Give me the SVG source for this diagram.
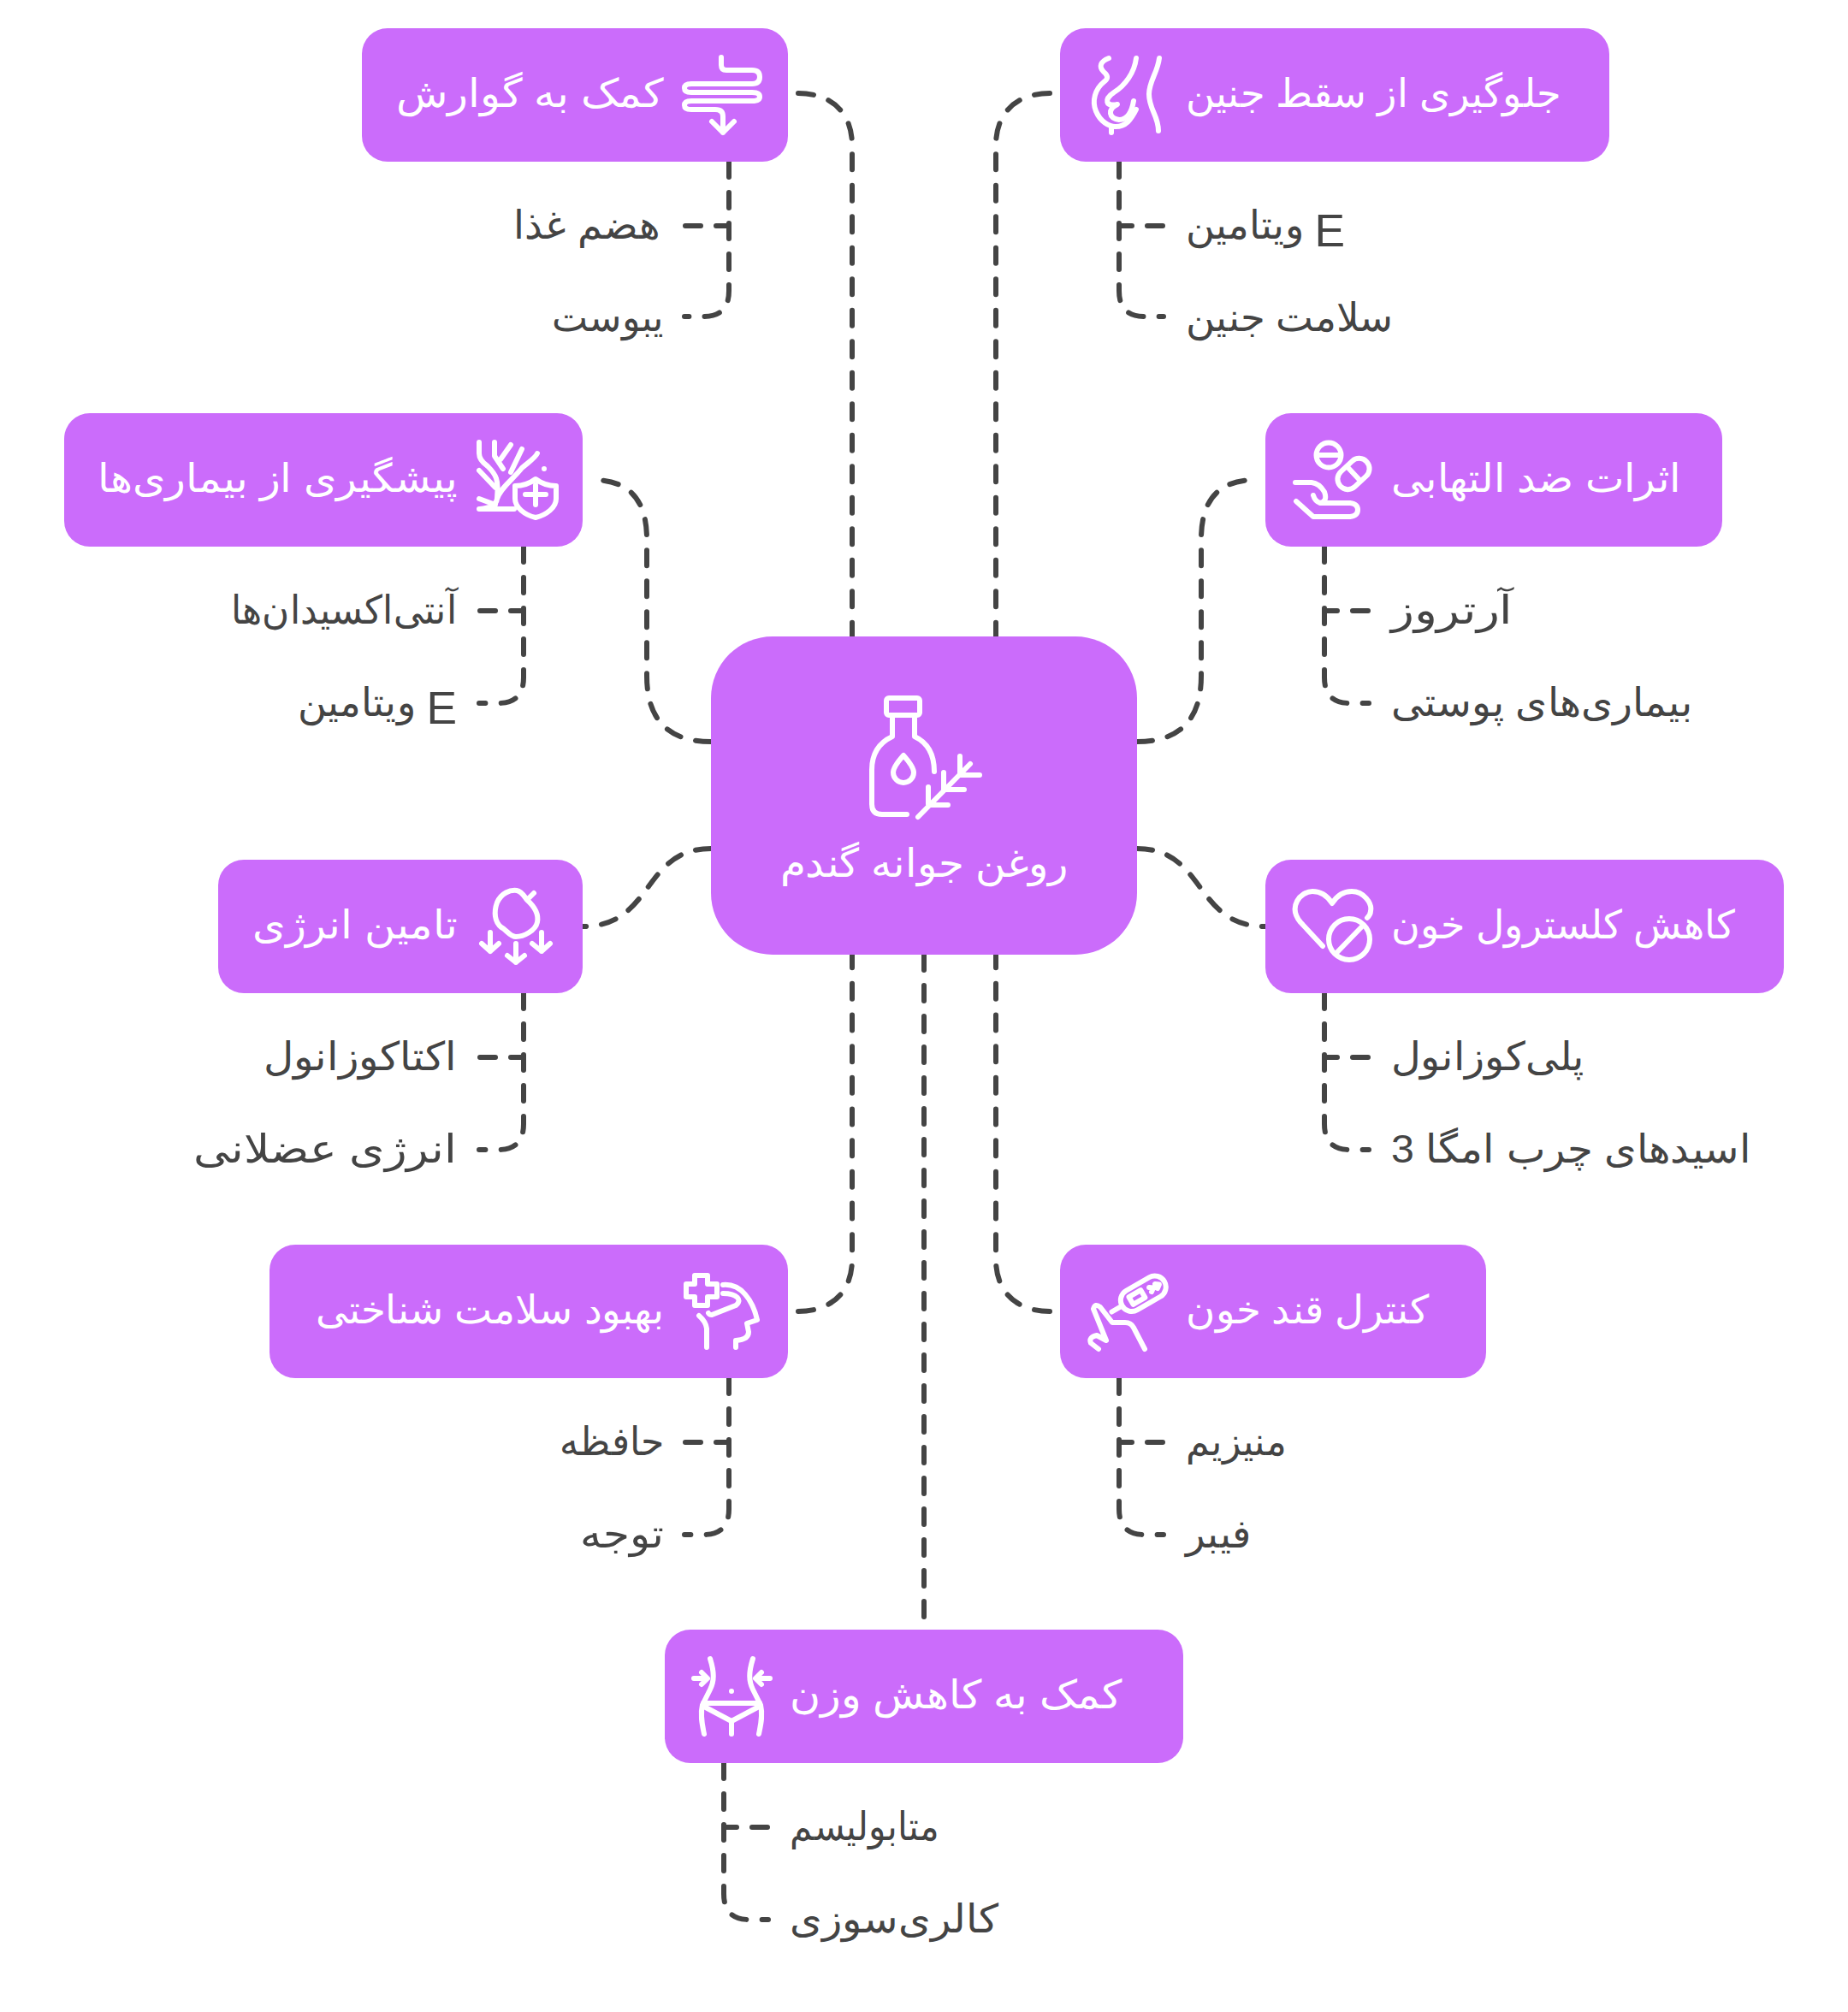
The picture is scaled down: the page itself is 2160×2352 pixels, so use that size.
<svg xmlns="http://www.w3.org/2000/svg" width="2160" height="2352" viewBox="0 0 2160 2352">
<style>
.n{fill:#cb6cfb}
.t{font-family:"Liberation Sans",Arial,sans-serif;font-size:46px}
.w{fill:#fff}
.s{fill:#444}
.e{text-anchor:end}
.l{font-size:53px}
.c{fill:none;stroke:#444;stroke-width:6;stroke-dasharray:18 18;stroke-linecap:round}
.a{stroke-dasharray:18 18.5}
.b{stroke-dasharray:18 18.67}
.i{fill:none;stroke:#fff;stroke-width:6;stroke-linecap:round;stroke-linejoin:round}
</style>
<rect width="2160" height="2352" fill="#fff"/>
<g id="connectors">
<path class="c a" d="M933 109C970 109 996 130 996 170V744"/>
<path class="c a" d="M1227 109C1190 109 1164 130 1164 170V744"/>
<path class="c" d="M831 867Q756 867 756 790V630Q756 561 693 561"/>
<path class="c" d="M1329 867Q1404 867 1404 790V630Q1404 561 1467 561"/>
<path class="c" d="M831 992C750 992 765 1083 681 1083"/>
<path class="c" d="M1329 992C1410 992 1395 1083 1479 1083"/>
<path class="c b" d="M933 1533C970 1533 996 1512 996 1472V1116"/>
<path class="c b" d="M1227 1533C1190 1533 1164 1512 1164 1472V1116"/>
<path class="c" d="M1080 1116V1905"/>
<path class="c" d="M852 189V264H800M852 189V340Q852 370 822 370H800"/>
<path class="c" d="M1308 189V264H1360M1308 189V340Q1308 370 1338 370H1360"/>
<path class="c" d="M612 639V714H560M612 639V792Q612 822 582 822H560"/>
<path class="c" d="M1548 639V714H1600M1548 639V792Q1548 822 1578 822H1600"/>
<path class="c" d="M612 1161V1236H560M612 1161V1314Q612 1344 582 1344H560"/>
<path class="c" d="M1548 1161V1236H1600M1548 1161V1314Q1548 1344 1578 1344H1600"/>
<path class="c" d="M852 1611V1686H800M852 1611V1764Q852 1794 822 1794H800"/>
<path class="c" d="M1308 1611V1686H1360M1308 1611V1764Q1308 1794 1338 1794H1360"/>
<path class="c" d="M846 2061V2136H898M846 2061V2214Q846 2244 876 2244H898"/>
</g>
<g id="center">
<rect class="n" x="831" y="744" width="498" height="372" rx="72"/>
<rect class="i" x="1036" y="816" width="39" height="20" rx="3"/>
<path class="i" d="M1043 836V861C1028 868 1019 880 1019 900V940Q1019 952 1031 952H1060M1069 836V861C1084 868 1092 882 1092 902"/>
<path class="i" d="M1056 883C1048 892 1044 898 1044 903A12 12 0 0 0 1068 903C1068 898 1064 892 1056 883Z"/>
<path class="i" d="M1073 955L1134 893M1085 920V940M1103 903V923M1122 884V905M1145 906H1123M1127 923H1105M1108 941H1087"/>
<text class="t w" x="1080" y="1025" text-anchor="middle" textLength="336" lengthAdjust="spacingAndGlyphs">روغن جوانه گندم</text>
</g>
<g id="n-digestion">
<rect class="n" x="423" y="33" width="498" height="156" rx="30"/>
<path class="i" d="M843 67V76Q843 82 849 82H879Q888 82 888 90T879 98H808Q800 98 800 103T808 108H879Q888 108 888 113T879 118H808Q800 118 800 123T808 128H836Q845 128 845 136V155M832 142L845 155L858 142"/>
<text class="t w e" x="776" y="125" textLength="313" lengthAdjust="spacingAndGlyphs">کمک به گوارش</text>
</g>
<g id="n-fetus">
<rect class="n" x="1239" y="33" width="642" height="156" rx="30"/>
<path class="i" d="M1355 68C1353 85 1343 95 1343 110C1343 128 1354 135 1354 153"/>
<path class="i" d="M1296 68C1286 72 1284 78 1290 84C1295 88 1296 92 1290 96C1280 104 1276 118 1281 130C1286 142 1296 148 1304 148C1316 148 1322 140 1328 128M1299 148V155"/>
<path class="i" d="M1328 68C1326 85 1315 100 1302 108C1290 116 1292 125 1306 122C1294 128 1296 138 1308 140C1318 140 1323 130 1325 118"/>
<text class="t w" x="1386" y="125" textLength="438" lengthAdjust="spacingAndGlyphs">جلوگیری از سقط جنین</text>
</g>
<g id="n-disease">
<rect class="n" x="75" y="483" width="606" height="156" rx="30"/>
<path class="i" d="M560 595H601M561 595C573 594 580 590 581 583C585 570 600 560 610 547C618 540 626 535 628 530M581 583C583 560 580 555 570 545Q560 538 560 530V517M578 517V533L588 548M597 520L585 537M610 525L597 552M560 550L579 570M560 583L579 590M636 548H636"/>
<path class="i" d="M626 560C618 566 610 568 602 568V583C602 593 613 602 626 605C639 602 650 593 650 583V568C642 568 634 566 626 560ZM626 567V590M614 578H638"/>
<text class="t w e" x="535" y="575" textLength="421" lengthAdjust="spacingAndGlyphs">پیشگیری از بیماری‌ها</text>
</g>
<g id="n-inflammation">
<rect class="n" x="1479" y="483" width="534" height="156" rx="30"/>
<circle class="i" cx="1553" cy="532" r="14.5"/>
<path class="i" d="M1539 532H1567"/>
<rect class="i" x="-21" y="-12" width="42" height="24" rx="12" transform="translate(1582 554) rotate(-43)"/>
<path class="i" d="M1575 546L1590 562"/>
<path class="i" d="M1514 564H1533Q1542 565 1548 575Q1552 586 1543 588Q1537 586 1535 579M1543 588H1578Q1587 589 1587 596T1578 604H1535L1515 586"/>
<text class="t w" x="1626" y="575" textLength="339" lengthAdjust="spacingAndGlyphs">اثرات ضد التهابی</text>
</g>
<g id="n-energy">
<rect class="n" x="255" y="1005" width="426" height="156" rx="30"/>
<path class="i" d="M616 1052C625 1060 630 1068 628 1078C626 1088 612 1095 603 1095C596 1095 592 1087 586 1084C578 1078 577 1066 581 1055C586 1044 596 1040 604 1041C610 1042 613 1048 616 1052L624 1044"/>
<path class="i" d="M573 1090V1112M563 1103L573 1112L583 1103M603 1103V1125M593 1117L603 1125L613 1117M633 1090V1112M622 1103L633 1112L643 1103"/>
<text class="t w e" x="535" y="1097" textLength="240" lengthAdjust="spacingAndGlyphs">تامین انرژی</text>
</g>
<g id="n-cholesterol">
<rect class="n" x="1479" y="1005" width="606" height="156" rx="30"/>
<path class="i" d="M1546 1106L1520 1078C1505 1060 1520 1042 1534 1042C1544 1042 1552 1048 1557 1056C1562 1048 1570 1042 1580 1042C1594 1042 1604 1056 1602 1065C1602 1068 1600 1071 1598 1073"/>
<circle class="i" cx="1577" cy="1098" r="24"/>
<path class="i" d="M1563 1113L1592 1083"/>
<text class="t w" x="1626" y="1097" textLength="402" lengthAdjust="spacingAndGlyphs">کاهش کلسترول خون</text>
</g>
<g id="n-cognitive">
<rect class="n" x="315" y="1455" width="606" height="156" rx="30"/>
<path class="i" d="M812 1491H827V1501H838V1516H827V1526H812V1516H802V1501H812Z"/>
<path class="i" d="M845 1502C866 1500 880 1520 885 1543L873 1547L875 1557Q875 1566 860 1567V1575"/>
<path class="i" d="M845 1512C862 1512 868 1520 860 1526L832 1537Q829 1537 828 1535M817 1538Q825 1545 826 1553V1575"/>
<text class="t w e" x="776" y="1547" textLength="407" lengthAdjust="spacingAndGlyphs">بهبود سلامت شناختی</text>
</g>
<g id="n-sugar">
<rect class="n" x="1239" y="1455" width="498" height="156" rx="30"/>
<g transform="translate(1335 1513) rotate(-30)">
<rect class="i" x="-27" y="-13" width="57" height="26" rx="13"/>
<rect class="i" x="-15" y="-5" width="16" height="10"/>
<path class="i" d="M-27 0H-41M11 -3L15 0L11 3M19 -3L23 0L19 3"/>
</g>
<path class="i" d="M1338 1577L1325 1552Q1322 1546 1315 1546H1300L1286 1528Q1280 1523 1278 1530L1293 1567L1282 1561Q1272 1563 1275 1570L1284 1577"/>
<text class="t w" x="1386" y="1547" textLength="284" lengthAdjust="spacingAndGlyphs">کنترل قند خون</text>
</g>
<g id="n-weight">
<rect class="n" x="777" y="1905" width="606" height="156" rx="30"/>
<path class="i" d="M830 1939C835 1955 835 1965 830 1975L821 1993C818 2005 821 2017 823 2027M880 1939C875 1955 875 1965 880 1975L889 1993C892 2005 889 2017 887 2027"/>
<path class="i" d="M811 1962H825M820 1955L827 1962L820 1969M900 1962H884M890 1955L883 1962L890 1969M822 1991H888M823 1995L855 2012L887 1995M855 2012V2027M855 1977H855"/>
<text class="t w" x="923" y="1997" textLength="388" lengthAdjust="spacingAndGlyphs">کمک به کاهش وزن</text>
</g>
<g id="labels">
<text class="t s e" x="771" y="279" textLength="171" lengthAdjust="spacingAndGlyphs">هضم غذا</text>
<text class="t s e" x="776" y="387" textLength="131" lengthAdjust="spacingAndGlyphs">یبوست</text>
<text class="t s" x="1386" y="279" textLength="186" lengthAdjust="spacingAndGlyphs">ویتامین <tspan class="l" dy="9">E</tspan></text>
<text class="t s" x="1386" y="387" textLength="243" lengthAdjust="spacingAndGlyphs">سلامت جنین</text>
<text class="t s e" x="534" y="729" textLength="264" lengthAdjust="spacingAndGlyphs">آنتی‌اکسیدان‌ها</text>
<text class="t s e" x="534" y="837" textLength="186" lengthAdjust="spacingAndGlyphs">ویتامین <tspan class="l" dy="9">E</tspan></text>
<text class="t s" x="1626" y="729" textLength="142" lengthAdjust="spacingAndGlyphs">آرتروز</text>
<text class="t s" x="1626" y="837" textLength="352" lengthAdjust="spacingAndGlyphs">بیماری‌های پوستی</text>
<text class="t s e" x="534" y="1251" textLength="226" lengthAdjust="spacingAndGlyphs">اکتاکوزانول</text>
<text class="t s e" x="534" y="1359" textLength="308" lengthAdjust="spacingAndGlyphs">انرژی عضلانی</text>
<text class="t s" x="1626" y="1251" textLength="226" lengthAdjust="spacingAndGlyphs">پلی‌کوزانول</text>
<text class="t s" x="1626" y="1359" textLength="421" lengthAdjust="spacingAndGlyphs">اسیدهای چرب امگا 3</text>
<text class="t s e" x="776" y="1701" textLength="122" lengthAdjust="spacingAndGlyphs">حافظه</text>
<text class="t s e" x="776" y="1809" textLength="98" lengthAdjust="spacingAndGlyphs">توجه</text>
<text class="t s" x="1386" y="1701" textLength="118" lengthAdjust="spacingAndGlyphs">منیزیم</text>
<text class="t s" x="1386" y="1809" textLength="76" lengthAdjust="spacingAndGlyphs">فیبر</text>
<text class="t s" x="923" y="2151" textLength="175" lengthAdjust="spacingAndGlyphs">متابولیسم</text>
<text class="t s" x="923" y="2259" textLength="244" lengthAdjust="spacingAndGlyphs">کالری‌سوزی</text>
</g>
</svg>
